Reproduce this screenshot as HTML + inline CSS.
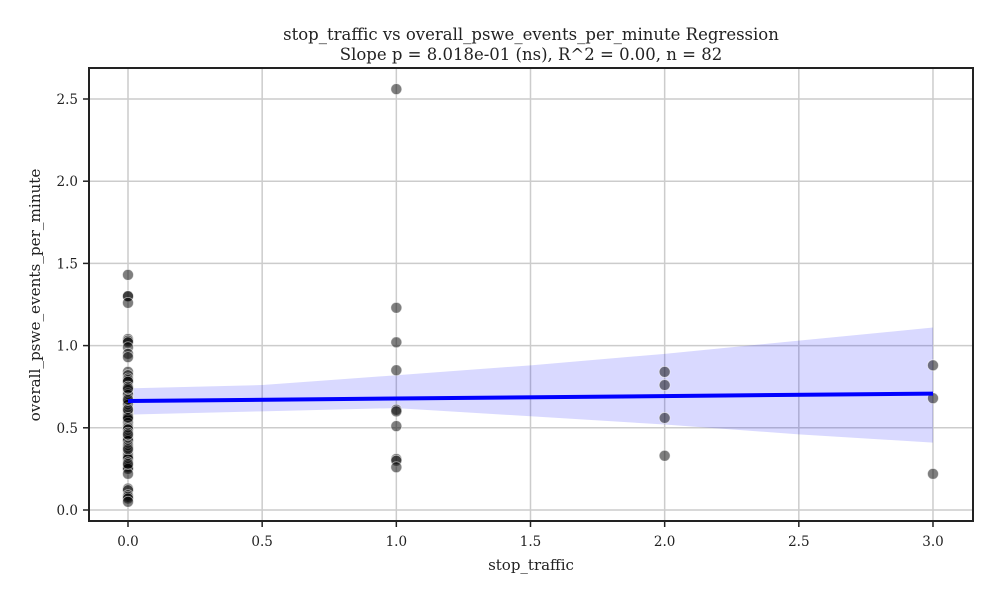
<!DOCTYPE html>
<html><head><meta charset="utf-8">
<style>
html,body{margin:0;padding:0;background:#fff;}
svg{display:block;font-family:"DejaVu Serif","Liberation Serif",serif;}
</style></head>
<body>
<svg id="chart" width="1000" height="600" viewBox="0 0 1000 600">
  <rect width="1000" height="600" fill="#fff"/>
  <text x="531" y="40" text-anchor="middle" font-size="16.5" fill="#222">stop_traffic vs overall_pswe_events_per_minute Regression</text>
  <text x="531" y="60" text-anchor="middle" font-size="16.5" fill="#222">Slope p = 8.018e-01 (ns), R^2 = 0.00, n = 82</text>
  <g id="grid"></g>
  <g id="band"></g>
  <g id="pts"></g>
  <g id="line"></g>
  <rect x="89" y="68" width="884" height="453" fill="none" stroke="#222" stroke-width="2"/>
  <g id="axes"></g>
  <text x="531" y="570" text-anchor="middle" font-size="15" fill="#222">stop_traffic</text>
  <text transform="translate(40,295) rotate(-90)" text-anchor="middle" font-size="15.2" fill="#222">overall_pswe_events_per_minute</text>
</svg>
<script>
const xTicks = [0,0.5,1,1.5,2,2.5,3];
const xTickLabels = ["0.0","0.5","1.0","1.5","2.0","2.5","3.0"];
const yTicks = [0,0.5,1,1.5,2,2.5];
const yTickLabels = ["0.0","0.5","1.0","1.5","2.0","2.5"];
const x0Values = [1.43,1.30,1.30,1.26,1.04,1.03,1.02,0.99,0.95,0.93,0.84,0.82,0.80,0.79,0.78,0.75,0.73,0.71,0.70,0.68,0.66,0.65,0.64,0.62,0.60,0.59,0.58,0.57,0.55,0.53,0.51,0.50,0.49,0.47,0.45,0.44,0.43,0.42,0.40,0.39,0.38,0.36,0.35,0.34,0.33,0.32,0.31,0.29,0.27,0.26,0.25,0.22,0.13,0.12,0.09,0.08,0.07,0.05,0.61,0.56,0.46,0.37,0.28,0.67,0.74];
const x1Values = [2.56,1.23,1.02,0.85,0.61,0.60,0.51,0.31,0.30,0.26];
const x2Values = [0.84,0.76,0.56,0.33];
const x3Values = [0.88,0.68,0.22];
const fitIntercept = 0.663;
const fitSlope = 0.015;
const bandX = [0,0.5,1,1.5,2,2.5,3];
const bandLow = [0.58,0.60,0.62,0.57,0.52,0.46,0.41];
const bandHigh = [0.74,0.76,0.82,0.88,0.95,1.03,1.11];

const NS="http://www.w3.org/2000/svg";
const xs = v => 128 + v*268.33;
const ys = v => 510 - v*164.4;
function mk(tag, attrs, parent){const e=document.createElementNS(NS,tag);for(const k in attrs)e.setAttribute(k,attrs[k]);parent.appendChild(e);return e;}
const grid=document.getElementById('grid'), axes=document.getElementById('axes');
xTicks.forEach((t,i)=>{
  const g=mk('line',{x1:xs(t),x2:xs(t),y1:68,y2:521,stroke:'#ccc','stroke-width':1.5},grid);
  
  
  const tk=mk('line',{x1:xs(t),x2:xs(t),y1:521,y2:527,stroke:'#222','stroke-width':1.5},axes);
  
  
  const l=mk('text',{x:xs(t),y:546,'text-anchor':'middle','font-size':13.5,fill:'#222'},axes);
  l.textContent=xTickLabels[i];
  
  
});
yTicks.forEach((t,i)=>{
  const g=mk('line',{x1:89,x2:973,y1:ys(t),y2:ys(t),stroke:'#ccc','stroke-width':1.5},grid);
  
  
  const tk=mk('line',{x1:83,x2:89,y1:ys(t),y2:ys(t),stroke:'#222','stroke-width':1.5},axes);
  
  
  const l=mk('text',{x:78,y:ys(t)+5,'text-anchor':'end','font-size':13.5,fill:'#222'},axes);
  l.textContent=yTickLabels[i];
  
  
});
let d='M'+bandX.map((x,i)=>xs(x)+','+ys(bandHigh[i])).join(' L');
d+=' L'+bandX.slice().reverse().map((x,i)=>xs(x)+','+ys(bandLow[bandX.length-1-i])).join(' L')+' Z';
const bp=mk('path',{d:d,fill:'#0000ff','fill-opacity':0.15},document.getElementById('band'));


const pts=document.getElementById('pts');
[[0,x0Values],[1,x1Values],[2,x2Values],[3,x3Values]].forEach(([xv,arr])=>{
  arr.forEach(v=>{
    const c=mk('circle',{cx:xs(xv),cy:ys(v),r:5.5,fill:'#000','fill-opacity':0.5,stroke:'#fff','stroke-opacity':0.6,'stroke-width':0.8},pts);
    
    
  });
});
const ln=mk('line',{x1:xs(0),y1:ys(fitIntercept),x2:xs(3),y2:ys(fitIntercept+3*fitSlope),stroke:'#0000ff','stroke-width':4},document.getElementById('line'));


</script>
</body></html>
